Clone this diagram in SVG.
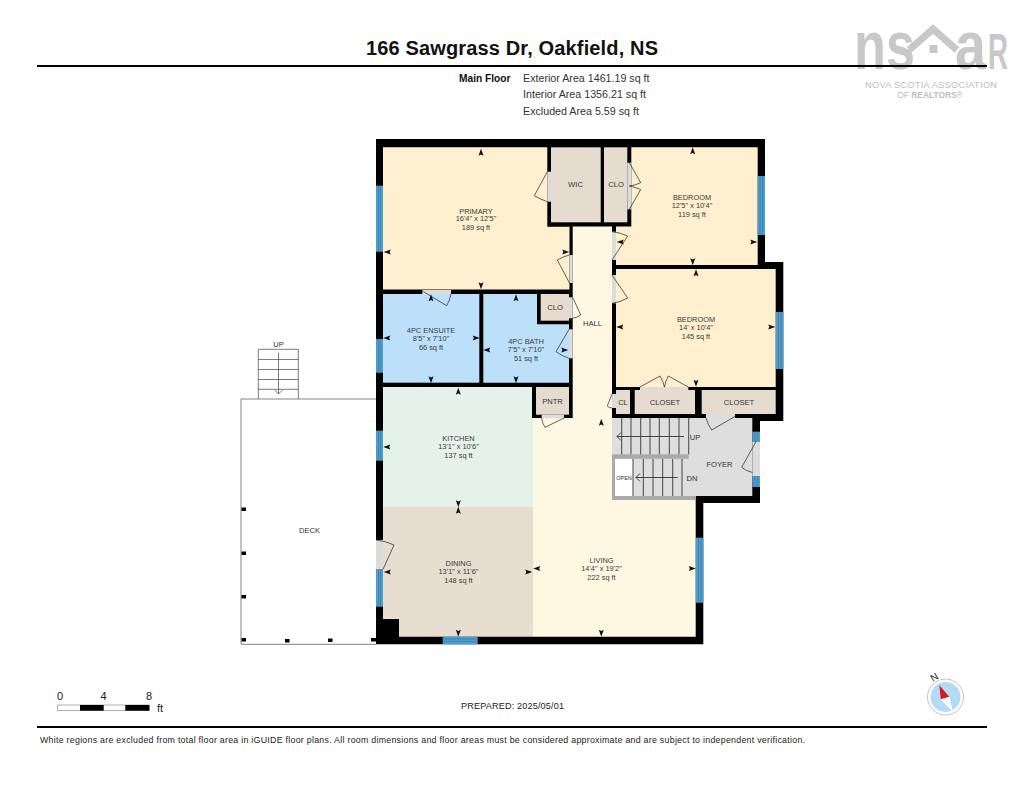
<svg xmlns="http://www.w3.org/2000/svg" width="1024" height="791" viewBox="0 0 1024 791">
<style>
text{font-family:"Liberation Sans",Arial,sans-serif;fill:#333}
.rl{font-size:7.4px;text-anchor:middle;fill:#3a3a3a}
.sl{font-size:7.6px;text-anchor:middle;fill:#333}
.hd{font-size:10.7px;fill:#333}
.win{fill:#4d9ccb}
.wl{stroke:#2f7aa8;stroke-width:.6;fill:none}
.op{fill:#dcdcdc}
.dr{fill:none;stroke:#222;stroke-width:.7}
.st{fill:none;stroke:#333;stroke-width:.9}
.post{fill:#000}
.lgt{fill:#c8c8c8}
</style>
<defs>
<path id="ah" d="M0-4.300L2.500 2.800 0 1.600-2.500 2.800Z" fill="#111"/>
</defs>
<rect width="1024" height="791" fill="#fff"/>

<g id="logo">
<text x="854" y="69" font-size="68" font-weight="bold" textLength="61" lengthAdjust="spacingAndGlyphs" style="fill:#c8c8c8">ns</text>
<path d="M909 50L933 29 957 50" fill="none" stroke="#c8c8c8" stroke-width="7"/>
<rect x="929.500" y="45" width="8" height="8" fill="#c8c8c8"/>
<text x="955" y="69" font-size="68" font-weight="bold" textLength="31" lengthAdjust="spacingAndGlyphs" style="fill:#c8c8c8">a</text>
<text x="988" y="69" font-size="50" font-weight="bold" textLength="20" lengthAdjust="spacingAndGlyphs" style="fill:#c8c8c8">R</text>
<text x="931" y="87.500" font-size="9.200" text-anchor="middle" textLength="132" style="fill:#bdbdbd">NOVA SCOTIA ASSOCIATION</text>
<text x="930" y="97.500" font-size="8.400" text-anchor="middle" style="fill:#bdbdbd">OF <tspan font-weight="bold">REALTORS</tspan>®</text>
</g>

<g id="header">
<text x="512" y="55" font-size="20" font-weight="bold" text-anchor="middle" textLength="292" style="fill:#111">166 Sawgrass Dr, Oakfield, NS</text>
<rect x="37" y="65" width="950" height="2" fill="#000"/>
<text x="459" y="81.500" font-size="10.200" font-weight="bold" style="fill:#111">Main Floor</text>
<text x="523" y="81.500" class="hd">Exterior Area 1461.19 sq ft</text>
<text x="523" y="98" class="hd">Interior Area 1356.21 sq ft</text>
<text x="523" y="115" class="hd">Excluded Area 5.59 sq ft</text>
</g>

<g id="deck">
<path d="M376 399H241V644.300H376" fill="#fff" stroke="#777" stroke-width=".9"/>
<path d="M258.300 399V349.300H298.300V399M258.300 359.500H298.300M258.300 369.500H298.300M258.300 379.500H298.300M258.300 389.300H298.300" fill="none" stroke="#444" stroke-width=".7"/>
<path d="M278.500 352.500V394M274.500 390L278.500 394 282.500 390" fill="none" stroke="#444" stroke-width=".7"/>
<text x="278.500" y="346.500" class="sl">UP</text>
<text x="309.500" y="533" class="sl">DECK</text>
<rect class="post" x="241.500" y="507.500" width="4.500" height="3.500"/>
<rect class="post" x="241.500" y="551.500" width="4.500" height="3.500"/>
<rect class="post" x="241.500" y="595" width="4.500" height="3.500"/>
<rect class="post" x="241.500" y="638" width="4.500" height="3.500"/>
<rect class="post" x="285" y="639" width="4.500" height="3.500"/>
<rect class="post" x="328" y="638.500" width="4.500" height="3.500"/>
<rect class="post" x="371" y="638" width="5" height="3.500"/>
</g>

<g id="walls">
<path d="M376 139H765V262H783.300V421H760V503H703.300V644.300H376Z" fill="#000"/>
</g>

<g id="primary">
<path d="M383 147.300H547.300V226.700H569.500V289.500H383Z" fill="#feefcf"/>
<text x="476" y="213.500" class="rl">PRIMARY</text><text x="476" y="221" class="rl">16'4" x 12'5"</text><text x="476" y="229.500" class="rl">189 sq ft</text>
<use href="#ah" transform="translate(481 153)"/><use href="#ah" transform="translate(481 285) rotate(180)"/><use href="#ah" transform="translate(388 252) rotate(-90)"/><use href="#ah" transform="translate(565 252) rotate(90)"/>
</g>
<g id="wic"><rect x="551" y="147.300" width="49.700" height="75" fill="#e5dccf"/><text x="575.500" y="187" class="sl">WIC</text></g>
<g id="clo1"><rect x="604" y="147.300" width="23.300" height="75" fill="#e5dccf"/><text x="616" y="187" class="sl">CLO</text></g>
<g id="bedroom1">
<path d="M631.300 147.300H757.700V265H616V226.500H631.300Z" fill="#feefcf"/>
<text x="692" y="200" class="rl">BEDROOM</text><text x="692" y="208" class="rl">12'5" x 10'4"</text><text x="692" y="216.500" class="rl">119 sq ft</text>
<use href="#ah" transform="translate(692.700 151.500)"/><use href="#ah" transform="translate(692.700 261) rotate(180)"/><use href="#ah" transform="translate(753 242) rotate(90)"/><use href="#ah" transform="translate(621 242) rotate(-90)"/>
</g>
<g id="bedroom2">
<rect x="616" y="269" width="159.700" height="118" fill="#feefcf"/>
<text x="696" y="322" class="rl">BEDROOM</text><text x="696" y="330" class="rl">14' x 10'4"</text><text x="696" y="339" class="rl">145 sq ft</text>
<use href="#ah" transform="translate(696 273.500)"/><use href="#ah" transform="translate(696 382.500) rotate(180)"/><use href="#ah" transform="translate(771 327) rotate(90)"/><use href="#ah" transform="translate(620.500 327) rotate(-90)"/>
</g>
<g id="ensuite">
<rect x="383" y="294" width="96.300" height="88.700" fill="#bde0fa"/>
<text x="431" y="333" class="rl">4PC ENSUITE</text><text x="431" y="341" class="rl">8'5" x 7'10"</text><text x="431" y="349.500" class="rl">66 sq ft</text>
<use href="#ah" transform="translate(431 298.500)"/><use href="#ah" transform="translate(431 379) rotate(180)"/><use href="#ah" transform="translate(387.500 338) rotate(-90)"/><use href="#ah" transform="translate(475.500 338) rotate(90)"/>
</g>
<g id="bath">
<path d="M483.300 294H537V324.300H569V382.700H483.300Z" fill="#bde0fa"/>
<text x="526" y="344" class="rl">4PC BATH</text><text x="526" y="352" class="rl">7'5" x 7'10"</text><text x="526" y="361" class="rl">51 sq ft</text>
<use href="#ah" transform="translate(516 298.500)"/><use href="#ah" transform="translate(516 379) rotate(180)"/><use href="#ah" transform="translate(487.500 350) rotate(-90)"/><use href="#ah" transform="translate(564 350) rotate(90)"/>
</g>
<g id="clo2"><rect x="540.700" y="294" width="28.300" height="26.700" fill="#e5dccf"/><text x="555" y="310" class="sl">CLO</text></g>
<g id="pntr"><rect x="536" y="387" width="33" height="27.700" fill="#e5dccf"/><text x="552.500" y="404" class="sl">PNTR</text></g>
<g id="kitchen">
<path d="M383 387H532V418H533V507H383Z" fill="#e5f2ea"/>
<text x="458.500" y="441" class="rl">KITCHEN</text><text x="458.500" y="449" class="rl">13'1" x 10'6"</text><text x="458.500" y="458" class="rl">137 sq ft</text>
<use href="#ah" transform="translate(458.300 392)"/><use href="#ah" transform="translate(458.300 503) rotate(180)"/><use href="#ah" transform="translate(387.500 447) rotate(-90)"/>
</g>
<g id="dining">
<path d="M383 507H533V636.700H399V619H383Z" fill="#e7ddd0"/>
<text x="458.500" y="566" class="rl">DINING</text><text x="458.500" y="574" class="rl">13'1" x 11'6"</text><text x="458.500" y="583" class="rl">148 sq ft</text>
<use href="#ah" transform="translate(458.300 511)"/><use href="#ah" transform="translate(458.300 632.500) rotate(180)"/><use href="#ah" transform="translate(388 572) rotate(-90)"/><use href="#ah" transform="translate(528 572) rotate(90)"/>
</g>
<g id="living">
<path d="M572.700 226.500H612V500H695.700V636.700H533V418H572.700Z" fill="#fef8e3"/>
<text x="601.500" y="563" class="rl">LIVING</text><text x="601.500" y="571" class="rl">14'4" x 19'2"</text><text x="601.500" y="580" class="rl">222 sq ft</text>
<use href="#ah" transform="translate(537.500 568.500) rotate(-90)"/><use href="#ah" transform="translate(691.500 568.500) rotate(90)"/><use href="#ah" transform="translate(601.300 632.500) rotate(180)"/><use href="#ah" transform="translate(601.300 423)"/>
</g>
<g id="hall"><text x="592.500" y="325.500" class="sl">HALL</text></g>
<g id="cl"><rect x="616" y="390" width="14" height="24" fill="#e5dccf"/><text x="623" y="404.500" class="sl">CL</text></g>
<g id="closet1"><rect x="634.700" y="390" width="60.300" height="24" fill="#e5dccf"/><text x="665" y="404.500" class="sl">CLOSET</text></g>
<g id="closet2"><rect x="701.700" y="390" width="74" height="24" fill="#e5dccf"/><text x="739" y="404.500" class="sl">CLOSET</text></g>
<g id="foyer">
<rect x="612" y="418" width="140.300" height="78" fill="#dedede"/>
<rect x="612" y="454.300" width="76.700" height="4.500" fill="#aaa"/>
<rect x="612" y="458" width="3" height="42" fill="#aaa"/>
<rect x="612" y="496" width="84" height="4" fill="#aaa"/>
<rect x="615" y="459" width="18" height="37" fill="#fff"/>
<path class="st" d="M621.700 418V454.300M631 418V454.300M640.700 418V454.300M650 418V454.300M659.300 418V454.300M669.300 418V454.300M679 418V454.300M688.700 418V454.300M633 459V496M643.300 459V496M653 459V496M662.700 459V496M672.700 459V496M682 459V496"/>
<path class="st" d="M684 436.500H617M621 432.500L617 436.500 621 440.500M677.500 477.500H636M640 473.500L636 477.500 640 481.500"/>
<text x="695" y="439.500" class="sl">UP</text><text x="692" y="480.500" class="sl">DN</text>
<text x="719.500" y="467" class="sl">FOYER</text>
<text x="624" y="480" font-size="5.500" text-anchor="middle">OPEN</text>
</g>

<g id="windows">
<rect class="win" x="376" y="185.700" width="7" height="66"/><rect class="win" x="757.700" y="176" width="7.300" height="59"/><rect class="win" x="776" y="312" width="7.300" height="57"/><rect class="win" x="376" y="339" width="7" height="33.700"/><rect class="win" x="376" y="430.700" width="7" height="30"/><rect class="win" x="376" y="569.300" width="7" height="37.400"/><rect class="win" x="442.700" y="636.700" width="35" height="7.600"/><rect class="win" x="696" y="537.700" width="7.300" height="65"/><rect class="win" x="752.300" y="431.700" width="7.700" height="10"/><rect class="win" x="752.300" y="476" width="7.700" height="11"/>
<path class="wl" d="M378.500 185.700V251.700M380.500 185.700V251.700M760 176V235M762.500 176V235M778.500 312V369M781 312V369M378.500 339V372.700M380.500 339V372.700M378.500 430.700V460.700M380.500 430.700V460.700M378.500 569.300V606.700M380.500 569.300V606.700M442.700 639H477.700M442.700 641.500H477.700M698.500 537.700V602.700M701 537.700V602.700M754.800 431.700V441.700M757.500 431.700V441.700M754.800 476V487M757.500 476V487"/>
</g>

<g id="doors">
<rect class="op" x="547.300" y="171.700" width="3.700" height="30"/><path class="dr" d="M547.300 171.700L534.300 195.700Q541 199.500 547.300 201.700"/>
<rect class="op" x="569.500" y="255" width="3.200" height="28"/><path class="dr" d="M569.500 283L557.300 260Q563 256.500 569.500 255"/>
<rect class="op" x="422.300" y="290" width="28.700" height="4"/><path class="dr" d="M422.300 291L446.700 305.700Q450 300 451 294"/>
<rect class="op" x="627.300" y="162.700" width="4" height="46.600"/><path class="dr" d="M629.300 162.700L640.700 182.700Q635 185.500 629.300 186M629.300 209.300L640.700 189.500Q635 187 629.300 186"/>
<rect class="op" x="612" y="231.700" width="4" height="28.300"/><path class="dr" d="M612 260L627.700 236Q620 232.500 612 231.700"/>
<rect class="op" x="612" y="275" width="4" height="28.300"/><path class="dr" d="M612 275L627.700 298Q620 302.500 612 303.300"/>
<rect class="op" x="569" y="297.300" width="3.700" height="21"/><path class="dr" d="M572.700 297.300L580.700 315Q577 317.500 572.700 318.300"/>
<rect class="op" x="569" y="329.300" width="3.700" height="29"/><path class="dr" d="M569 329.300L556 351.700Q562 356 569 358.300"/>
<rect class="op" x="541.700" y="414.700" width="22.300" height="3.500"/><path class="dr" d="M564 418L545 427.300Q542 423 541.700 418"/>
<rect class="op" x="612" y="394" width="4" height="14"/><path class="dr" d="M612 394L607.300 406Q609 408 612 408"/>
<rect class="op" x="640" y="387" width="48.300" height="3"/><path class="dr" d="M640 387L660 376Q663 381 664.500 387M688.300 387L668.300 376Q665.500 381 664.500 387"/>
<rect class="op" x="706" y="414" width="29" height="4"/><path class="dr" d="M735 416.500L711.700 430Q708 425 706 418"/>
<rect class="op" x="752.300" y="441.700" width="7.700" height="34.300"/><path class="dr" d="M756 441.700L741.700 467.300Q746 471 752.500 472.500"/>
<rect class="op" x="376" y="540" width="7" height="29.300"/><path class="dr" d="M383 569.300L394 545Q386 541 376 540"/>
</g>

<g id="footer">
<rect x="57.700" y="705" width="91.600" height="5.700" fill="#fff" stroke="#777" stroke-width=".6"/>
<rect x="80" y="705" width="23.700" height="5.700" fill="#000"/><rect x="125.300" y="705" width="24" height="5.700" fill="#000"/>
<text x="60" y="700" font-size="11" text-anchor="middle" style="fill:#222">0</text><text x="103.500" y="700" font-size="11" text-anchor="middle" style="fill:#222">4</text><text x="149" y="700" font-size="11" text-anchor="middle" style="fill:#222">8</text><text x="157" y="712" font-size="11" style="fill:#222">ft</text>
<text x="512.500" y="709" font-size="9.100" text-anchor="middle" style="fill:#222" textLength="103">PREPARED: 2025/05/01</text>
<rect x="37" y="726" width="950" height="2" fill="#000"/>
<text x="40" y="743" font-size="8.800" style="fill:#222" textLength="765">White regions are excluded from total floor area in iGUIDE floor plans. All room dimensions and floor areas must be considered approximate and are subject to independent verification.</text>
</g>
<g id="compass">
<circle cx="945.500" cy="697" r="18" fill="#fff" stroke="#aaa" stroke-width=".7"/>
<circle cx="945.500" cy="697" r="15" fill="#b4dbf5"/>
<path d="M939.300 685L949.300 696.700 953 712 940.700 699.300Z" fill="#fff"/>
<path d="M939.300 685L949.300 696.700 940.700 699.300Z" fill="#d8181f"/>
<text x="0" y="0" font-size="10" text-anchor="middle" transform="translate(936 680) rotate(-32)" style="fill:#222">N</text>
</g>
</svg>
